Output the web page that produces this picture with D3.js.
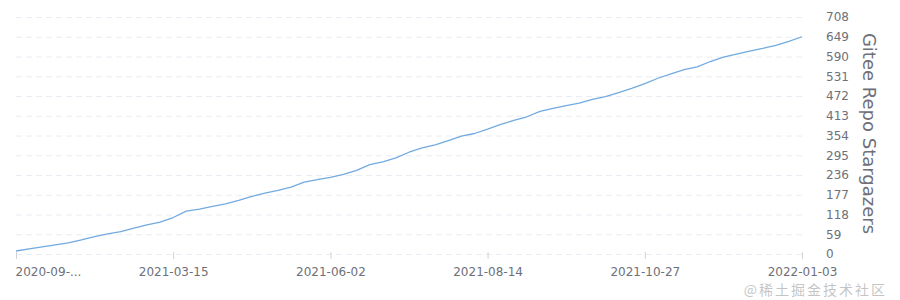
<!DOCTYPE html>
<html>
<head>
<meta charset="utf-8">
<script src="https://cdn.jsdelivr.net/npm/d3@7"></script>
<style>
  html, body { margin: 0; padding: 0; background: #fff; }
  svg { display: block; font-family: "DejaVu Sans", sans-serif; }
</style>
</head>
<body>
<svg id="chart" width="900" height="300"></svg>
<script>
// Gitee stargazers over time (category axis, one point per sampled date)
const stars = [9, 15, 21, 27, 33, 42, 52, 60, 67, 77, 87, 95, 109, 128, 134, 142, 150, 160, 172, 182,
  190, 200, 215, 222, 229, 238, 250, 267, 275, 287, 304, 317, 326, 339, 352, 360, 373, 387, 399, 410,
  426, 435, 443, 451, 462, 470, 482, 495, 509, 525, 538, 551, 559, 575, 588, 597, 606, 614, 623, 635, 649];
const xTickIndex = [0, 12, 24, 36, 48, 60];
const xTickLabels = ["2020-09-...", "2021-03-15", "2021-06-02", "2021-08-14", "2021-10-27", "2022-01-03"];
const yTicks = [0, 59, 118, 177, 236, 295, 354, 413, 472, 531, 590, 649, 708];
const yTitle = "Gitee Repo Stargazers";
const watermark = "@稀土掘金技术社区";

const svg = d3.select("#chart");
const mLeft = 16, mRight = 802, mTop = 17, mBottom = 254;

const x = d3.scalePoint().domain(d3.range(stars.length)).range([mLeft, mRight]);
const y = d3.scaleLinear().domain([0, 708]).range([mBottom, mTop]);

// grid lines
svg.append("g").selectAll("line").data(yTicks).join("line")
  .attr("x1", mLeft).attr("x2", mRight)
  .attr("y1", d => y(d) + 0.5).attr("y2", d => y(d) + 0.5)
  .attr("stroke", "#e9ecf2").attr("stroke-width", 1)
  .attr("stroke-dasharray", "6,4");

// y axis (right, labels only)
const yAxis = d3.axisRight(y).tickValues(yTicks).tickSize(0).tickPadding(24);
const gy = svg.append("g").attr("transform", `translate(${mRight},0)`).call(yAxis);
gy.select(".domain").remove();
gy.selectAll("text").attr("fill", "#6e7079").style("font-size", "12px")
  .style("font-family", "DejaVu Sans, sans-serif");

// x axis
const xAxis = d3.axisBottom(x).tickValues(xTickIndex)
  .tickFormat((d, i) => xTickLabels[i]).tickSize(5).tickPadding(8);
const gx = svg.append("g").attr("transform", `translate(0,${mBottom})`).call(xAxis);
gx.select(".domain").remove();
gx.selectAll("line").attr("stroke", "#d0d3d9").attr("y1", -2);
gx.selectAll("text").attr("fill", "#6e7079").style("font-size", "12px")
  .style("font-family", "DejaVu Sans, sans-serif");
gx.selectAll("text").filter((d, i) => i === 0).attr("text-anchor", "start").attr("dx", "-1");

// line
svg.append("path").datum(stars)
  .attr("fill", "none").attr("stroke", "#72aae0").attr("stroke-width", 1.3)
  .attr("stroke-linejoin", "round")
  .attr("d", d3.line().x((d, i) => x(i)).y(d => y(d)));

// y axis title
svg.append("text")
  .attr("transform", `translate(863,${(mTop + mBottom) / 2 - 2}) rotate(90)`)
  .attr("text-anchor", "middle")
  .attr("fill", "#6e7079").style("font-size", "18px")
  .text(yTitle);

// watermark
svg.append("text")
  .attr("x", 887).attr("y", 295).attr("text-anchor", "end")
  .attr("fill", "#8a8a8a").attr("fill-opacity", 0.5)
  .style("font-family", "Noto Sans CJK SC, sans-serif").style("font-size", "14px")
  .style("letter-spacing", "2px")
  .text(watermark);
</script>
</body>
</html>
